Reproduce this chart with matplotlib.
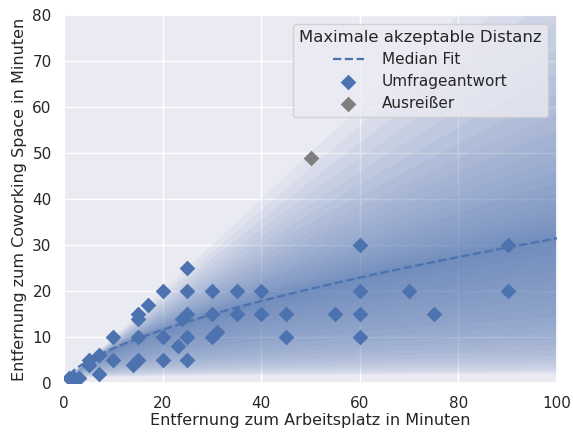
import numpy as np
import matplotlib
matplotlib.use("Agg")
import matplotlib.pyplot as plt
import seaborn as sns

sns.set_theme(style="darkgrid")
plt.rcParams['font.family'] = ['DejaVu Sans']

# Survey responses (commute to workplace, max. acceptable distance to coworking space)
resp_x = [1, 2, 3, 5, 5, 7, 7, 10, 10, 14, 15, 15, 15, 15, 17, 20, 20, 20, 23,
          24, 25, 25, 25, 25, 25, 30, 30, 30, 31, 35, 35, 40, 40, 45, 45,
          55, 60, 60, 60, 60, 70, 75, 90, 90]
resp_y = [1, 1, 1, 5, 4, 6, 2, 10, 5, 4, 5, 10, 14, 15, 17, 20, 10, 5, 8,
          14, 25, 20, 15, 10, 5, 20, 15, 10, 11, 20, 15, 20, 15, 15, 10,
          15, 30, 20, 15, 10, 20, 15, 30, 20]
outlier_x = [50]
outlier_y = [49]

# Power-law fits y = a * x^b : lower bound, median, upper bound
fit_a = [1.0, 1.81, 1.0]
fit_b = [0.15, 0.62, 1.0]

blue = "#4C72B0"
gray = "#7f7f7f"

fig = plt.figure(figsize=(5.73, 4.34), dpi=100)
ax = fig.add_axes([0.112, 0.1175, 0.86, 0.848])

x = np.linspace(0, 100, 400)

def curve(side, u):
    s = u ** 1.6
    if side < 0:
        la = (1 - s) * np.log(fit_a[1]) + s * np.log(fit_a[0])
        b = (1 - s) * fit_b[1] + s * fit_b[0]
    else:
        la = (1 - s) * np.log(fit_a[1]) + s * np.log(fit_a[2])
        b = (1 - s) * fit_b[1] + s * fit_b[2]
    return np.exp(la) * np.power(x, b)

N = 22
for k in range(1, N + 1):
    u = k / N
    ax.fill_between(x, curve(-1, u), curve(1, u), color=blue, alpha=0.06,
                    linewidth=0, zorder=1)

xm = np.linspace(1, 100, 200)
ax.plot(xm, fit_a[1] * xm ** fit_b[1], ls="--", color=blue, lw=1.6,
        label="Median Fit", zorder=3)
ax.scatter(resp_x, resp_y, marker="D", s=64, color=blue, linewidths=0,
           label="Umfrageantwort", zorder=4)
ax.scatter(outlier_x, outlier_y, marker="D", s=64, color=gray, linewidths=0,
           label="Ausreißer", zorder=4)

ax.set_xlim(0, 100)
ax.set_ylim(0, 80)
ax.set_xticks([0, 20, 40, 60, 80, 100])
ax.set_yticks(range(0, 81, 10))
ax.tick_params(labelsize=11, pad=3)
ax.set_xlabel("Entfernung zum Arbeitsplatz in Minuten", fontsize=11.5, labelpad=2)
ax.set_ylabel("Entfernung zum Coworking Space in Minuten", fontsize=11.5, labelpad=4)

leg = ax.legend(title="Maximale akzeptable Distanz", loc="upper right",
                fontsize=11.0, title_fontsize=11.85, borderaxespad=0.6,
                labelspacing=0.45, handletextpad=1.2)

fig.savefig("out.png", dpi=100)
